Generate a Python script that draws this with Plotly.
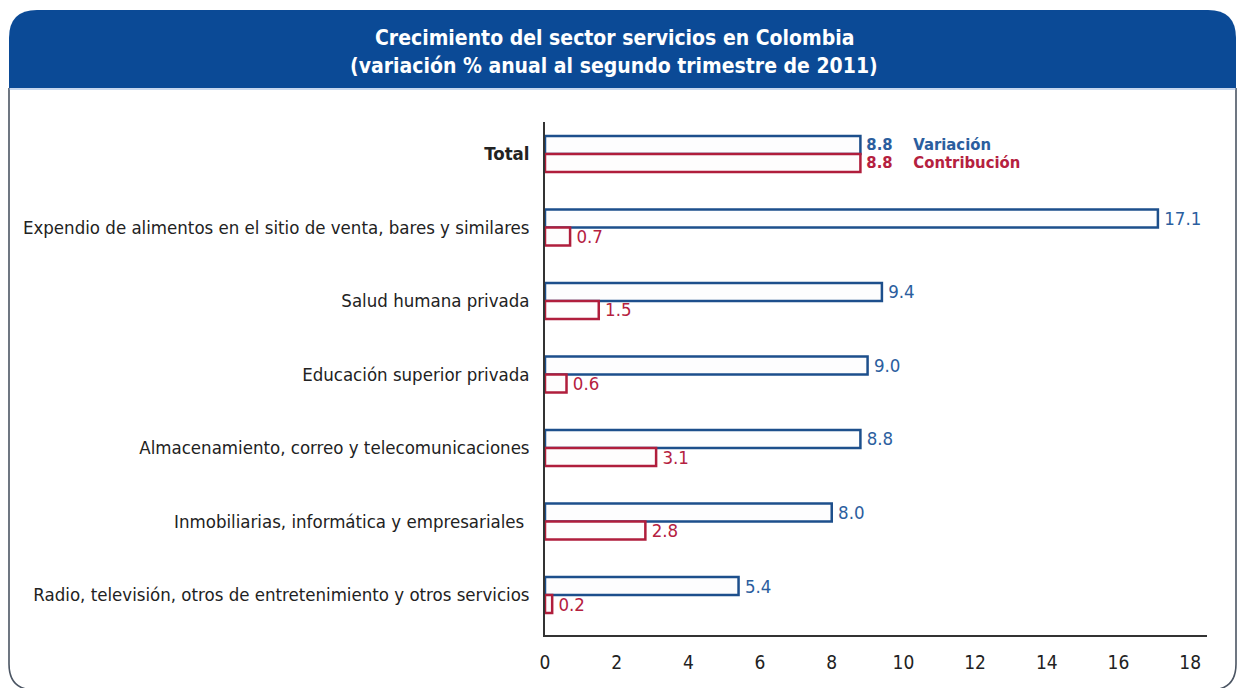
import plotly.graph_objects as go

# Data: annual % change, services sector in Colombia, Q2 2011
categories = [
    "Total",
    "Expendio de alimentos en el sitio de venta, bares y similares",
    "Salud humana privada",
    "Educación superior privada",
    "Almacenamiento, correo y telecomunicaciones",
    "Inmobiliarias, informática y empresariales\u00a0",
    "Radio, televisión, otros de entretenimiento y otros servicios",
]
variacion = [8.8, 17.1, 9.4, 9.0, 8.8, 8.0, 5.4]
contribucion = [8.8, 0.7, 1.5, 0.6, 3.1, 2.8, 0.2]
tick_values = [0, 2, 4, 6, 8, 10, 12, 14, 16, 18]

FONT = "DejaVu Sans Condensed, Liberation Sans Narrow, Arial Narrow, sans-serif"
BLUE = "#1d4f8c"
BLUE_TXT = "#2b5e9e"
RED = "#b01e3c"
RED_TXT = "#b5213f"
HEADER = "#0b4a96"

# Canvas geometry (pixels) used to place the frame decorations
W, H = 1238, 688
L, R, T, B = 545, 1207, 122, 635


def px(x):
    return (x - L) / (R - L)


def py(y):
    return (B - y) / (B - T)


def fmt(v):
    return f"{v:.1f}"


var_text = ["\u2009" + fmt(v) for v in variacion]
con_text = ["\u2009" + fmt(v) for v in contribucion]
var_text[0] = f"<b>\u2009{fmt(variacion[0])}\u00a0\u00a0\u00a0\u00a0Variación</b>"
con_text[0] = f"<b>\u2009{fmt(contribucion[0])}\u00a0\u00a0\u00a0\u00a0Contribución</b>"

# Slightly smaller type for the Total row so the two labels sit flush
label_sizes = [16.5] + [18.5] * (len(categories) - 1)

tick_labels = ["<b>Total</b>"] + categories[1:]

fig = go.Figure()
fig.add_trace(go.Bar(
    y=categories, x=variacion, orientation="h", name="Variación",
    marker=dict(color="#fdfdfe", line=dict(color=BLUE, width=2.5)),
    text=var_text, textposition="outside", cliponaxis=False, constraintext="none",
    textfont=dict(family=FONT, size=label_sizes, color=BLUE_TXT),
    hoverinfo="skip",
))
fig.add_trace(go.Bar(
    y=categories, x=contribucion, orientation="h", name="Contribución",
    marker=dict(color="#fefdfd", line=dict(color=RED, width=2.5)),
    text=con_text, textposition="outside", cliponaxis=False, constraintext="none",
    textfont=dict(family=FONT, size=label_sizes, color=RED_TXT),
    hoverinfo="skip",
))

# Header band with rounded top corners
r = 28
x0, x1, ytop, ybot = 9, 1236, 10, 88
header_path = (
    f"M {px(x0)},{py(ybot)} L {px(x0)},{py(ytop + r)} "
    f"Q {px(x0)},{py(ytop)} {px(x0 + r)},{py(ytop)} "
    f"L {px(x1 - r)},{py(ytop)} Q {px(x1)},{py(ytop)} {px(x1)},{py(ytop + r)} "
    f"L {px(x1)},{py(ybot)} Z"
)
# Outer frame with rounded bottom corners
rb = 26
yb = 690
frame_path = (
    f"M {px(x0)},{py(ybot)} L {px(x0)},{py(yb - rb)} "
    f"Q {px(x0)},{py(yb)} {px(x0 + rb)},{py(yb)} "
    f"L {px(x1 - rb)},{py(yb)} Q {px(x1)},{py(yb)} {px(x1)},{py(yb - rb)} "
    f"L {px(x1)},{py(ybot)}"
)

shapes = [
    dict(type="path", xref="paper", yref="paper", path=frame_path,
         line=dict(color="#4b5563", width=1.6), fillcolor="rgba(0,0,0,0)", layer="below"),
    dict(type="path", xref="paper", yref="paper", path=header_path,
         line=dict(width=0), fillcolor=HEADER, layer="below"),
    dict(type="line", xref="paper", yref="paper",
         x0=px(x0), x1=px(x1), y0=py(89), y1=py(89),
         line=dict(color="#8fb0dd", width=1.2), layer="below"),
]

annotations = [
    dict(text="<b>Crecimiento del sector servicios en Colombia</b>",
         xref="paper", yref="paper", x=px(614), y=py(38), showarrow=False,
         xanchor="center", yanchor="middle",
         font=dict(family=FONT, size=21, color="white")),
    dict(text="<b>(variación % anual al segundo trimestre de 2011)</b>",
         xref="paper", yref="paper", x=px(614), y=py(66), showarrow=False,
         xanchor="center", yanchor="middle",
         font=dict(family=FONT, size=21, color="white")),
]

# Category axis: index 0 (Total) at top
n = len(categories)
fig.update_layout(
    width=W, height=H,
    margin=dict(l=L, r=W - R, t=T, b=H - B, pad=0),
    paper_bgcolor="white", plot_bgcolor="white",
    barmode="group", bargap=0.51, bargroupgap=0.0,
    showlegend=False,
    font=dict(family=FONT, color="#222222"),
    shapes=shapes, annotations=annotations,
    xaxis=dict(
        range=[0, 18.47], tickvals=tick_values,
        ticktext=[str(v) for v in tick_values],
        showgrid=False, zeroline=False, showline=True,
        linecolor="#333333", linewidth=1.5, ticks="",
        tickfont=dict(family=FONT, size=19, color="#222222"),
        ticklabelstandoff=9, fixedrange=True,
    ),
    yaxis=dict(
        type="category", categoryorder="array", categoryarray=categories,
        tickvals=categories, ticktext=tick_labels,
        range=[n - 1 + 0.544, -0.435],
        showgrid=False, zeroline=False, showline=True,
        linecolor="#333333", linewidth=1.5, ticks="",
        tickfont=dict(family=FONT, size=18.5, color="#222222"),
        ticklabelstandoff=10, fixedrange=True,
    ),
)

fig.write_html("out.html", config={"displayModeBar": False})
